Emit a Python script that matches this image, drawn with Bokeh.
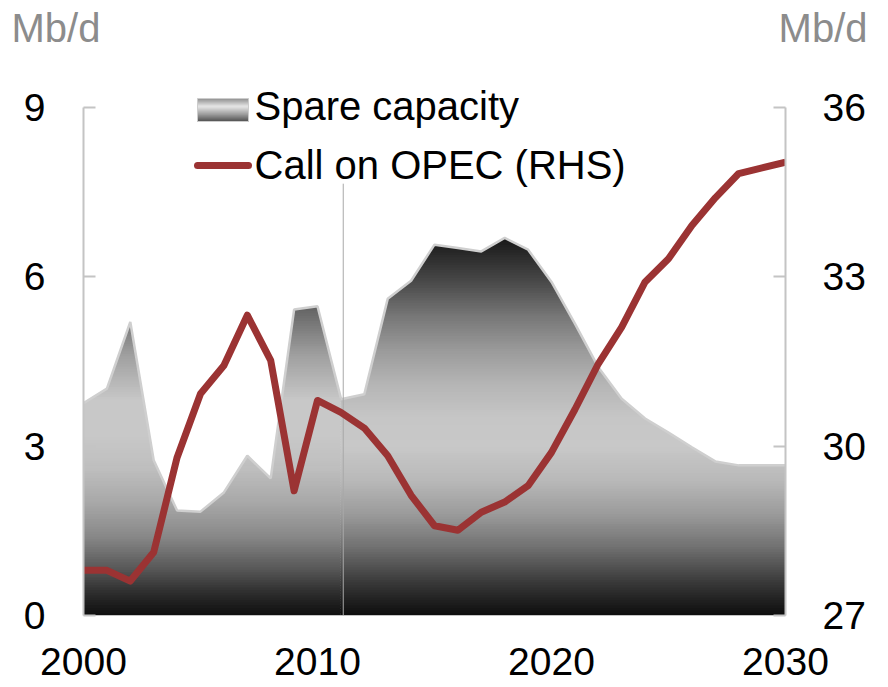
from bokeh.plotting import figure
from bokeh.layouts import column
from bokeh.models import Range1d, LinearAxis, Label, FixedTicker
from bokeh.embed import file_html
from bokeh.resources import INLINE

# ---------------- data ----------------
years = list(range(2000, 2031))
spare_early_years = list(range(2000, 2012))
spare_early = [3.76, 4.02, 5.20, 2.75, 1.86, 1.84, 2.18, 2.83, 2.43, 5.42, 5.48, 3.85]
spare_late_years = list(range(2011, 2031))
spare_late = [3.83, 3.92, 5.61, 5.93, 6.57, 6.51, 6.45, 6.69, 6.48, 5.91,
              5.17, 4.40, 3.84, 3.49, 3.24, 2.98, 2.73, 2.66, 2.66, 2.66]
call_on_opec = [27.80, 27.80, 27.61, 28.12, 29.80, 30.93, 31.43, 32.32, 31.52, 29.21,
                30.81, 30.60, 30.32, 29.83, 29.13, 28.59, 28.51, 28.83, 29.01, 29.30,
                29.89, 30.65, 31.46, 32.11, 32.91, 33.32, 33.91, 34.40, 34.83, 34.93, 35.03]
divider_year = 2011.1
divider_top = 7.65
x_ticks = [2000, 2010, 2020, 2030]
x_tick_labels = ["2000", "2010", "2020", "2030"]
left_ticks = [0, 3, 6, 9]
right_ticks = [27, 30, 33, 36]
series_names = ["Spare capacity", "Call on OPEC (RHS)"]
unit_label = "Mb/d"

# ---------------- layout ----------------
FONT = "Liberation Sans"
W, H_TOTAL = 888, 687
HEAD_H = 50
H = H_TOTAL - HEAD_H
FRAME_L, FRAME_R, FRAME_T, FRAME_B = 83, 785, HEAD_H, 615
PPU = (615 - 107) / 9.0
y_end = (FRAME_B - FRAME_T) / PPU
x_px = (FRAME_R - FRAME_L) / 30.0
TXT_SHIFT = 15  # Bokeh's label baseline sits lower than the requested point

def dx(px):  # page px -> data x
    return 2000 + (px - FRAME_L) / x_px

def dy(py):  # page px -> data y (left scale)
    return (FRAME_B - py) / PPU

# header with the unit labels
head = figure(width=W, height=HEAD_H, x_range=Range1d(0, W), y_range=Range1d(HEAD_H, 0),
              output_backend="svg", toolbar_location=None, x_axis_type=None,
              y_axis_type=None, min_border=0)
head.frame_align = False
head.outline_line_color = None
head.xgrid.visible = False
head.ygrid.visible = False
head.add_layout(Label(x=11, y=42 - TXT_SHIFT, text=unit_label, text_font=FONT,
                      text_font_size="40px", text_color="#8c8c8c",
                      text_baseline="alphabetic", text_align="left"))
head.add_layout(Label(x=867, y=42 - TXT_SHIFT, text=unit_label, text_font=FONT,
                      text_font_size="40px", text_color="#8c8c8c",
                      text_baseline="alphabetic", text_align="right"))

p = figure(width=W, height=H, x_range=Range1d(2000, 2030), y_range=Range1d(0, y_end),
           output_backend="svg", toolbar_location=None,
           min_border_left=FRAME_L, min_border_right=W - FRAME_R,
           min_border_top=0, min_border_bottom=H_TOTAL - FRAME_B)
p.frame_align = False
p.extra_y_ranges = {"rhs": Range1d(27, 27 + y_end)}
p.outline_line_color = None
p.xgrid.visible = False
p.ygrid.visible = False
p.background_fill_color = "white"
p.border_fill_color = "white"

# ---------------- gradient areas ----------------
def interp(v, stops):
    for (v0, g0), (v1, g1) in zip(stops, stops[1:]):
        if v <= v1:
            return g0 + (g1 - g0) * (v - v0) / (v1 - v0)
    return stops[-1][1]

def split_at_levels(xs, ys, levels):
    px, py = [xs[0]], [ys[0]]
    for x0, y0, x1, y1 in zip(xs, ys, xs[1:], ys[1:]):
        cross = []
        for L in levels:
            if (y0 - L) * (y1 - L) < 0:
                t = (L - y0) / (y1 - y0)
                cross.append((x0 + t * (x1 - x0), L))
        cross.sort()
        for cx, cy in cross:
            px.append(cx)
            py.append(cy)
        px.append(x1)
        py.append(y1)
    return px, py

def gradient_area(xs, ys, stops, step=0.045):
    top = max(ys)
    n = int(top / step) + 1
    polys_x, polys_y, colors = [], [], []
    for i in range(n):
        lo = i * step
        hi = lo + step * 1.6
        px, py = split_at_levels(xs, ys, [lo, hi])
        y1 = [min(lo, y) for y in py]
        y2 = [min(hi, y) for y in py]
        g = int(round(interp(lo + step / 2, stops)))
        g = max(0, min(255, g))
        polys_x.append(px + px[::-1])
        polys_y.append(y2 + y1[::-1])
        colors.append("#%02x%02x%02x" % (g, g, g))
    p.patches(xs=polys_x, ys=polys_y, fill_color=colors, line_color=None)

early_stops = [(0, 14), (0.4, 45), (0.8, 85), (1.4, 136), (2.0, 168), (2.6, 190),
               (3.2, 200), (3.8, 200), (4.6, 160), (5.5, 96)]
late_stops = [(0, 12), (0.6, 58), (1.2, 112), (1.8, 155), (2.4, 185), (3.0, 200),
              (3.5, 198), (4.1, 181), (4.7, 154), (5.3, 119), (5.9, 74), (6.7, 22)]

gradient_area(spare_early_years, spare_early, early_stops)
gradient_area(spare_late_years, spare_late, late_stops)
p.line(spare_early_years, spare_early, line_color="#cfcfcf", line_width=2.5)
p.line(spare_late_years, spare_late, line_color="#cfcfcf", line_width=2.5)

# divider
p.segment(x0=[divider_year], y0=[0], x1=[divider_year], y1=[divider_top],
          line_color="#a8a8a8", line_width=1)

# call on OPEC line
RED = "#9b3333"
p.line(years, call_on_opec, y_range_name="rhs", line_color=RED, line_width=7,
       line_join="round")

# ---------------- axes ----------------
AXC = "#c4c4c4"
ya = p.yaxis[0]
ya.ticker = FixedTicker(ticks=left_ticks)
ya.bounds = (0, 9)
ya.axis_line_color = AXC
ya.axis_line_width = 2
ya.major_tick_in = 12
ya.major_tick_out = 0
ya.major_tick_line_color = AXC
ya.major_tick_line_width = 2
ya.minor_tick_line_color = None
ya.major_label_text_font = FONT
ya.major_label_text_font_size = "39px"
ya.major_label_text_color = "black"
ya.major_label_standoff = 38

ra = LinearAxis(y_range_name="rhs", ticker=FixedTicker(ticks=right_ticks), bounds=(27, 36))
ra.axis_line_color = AXC
ra.axis_line_width = 2
ra.major_tick_in = 12
ra.major_tick_out = 0
ra.major_tick_line_color = AXC
ra.major_tick_line_width = 2
ra.minor_tick_line_color = None
ra.major_label_text_font = FONT
ra.major_label_text_font_size = "39px"
ra.major_label_text_color = "black"
ra.major_label_standoff = 37
p.add_layout(ra, "right")

xa = p.xaxis[0]
xa.ticker = FixedTicker(ticks=x_ticks)
xa.major_label_overrides = {t: l for t, l in zip(x_ticks, x_tick_labels)}
xa.axis_line_color = None
xa.major_tick_line_color = None
xa.minor_tick_line_color = None
xa.major_label_text_font = FONT
xa.major_label_text_font_size = "39px"
xa.major_label_text_color = "black"
xa.major_label_standoff = 26

# ---------------- legend ----------------
sw_top, sw_bot, sw_l, sw_r = 98, 121, 197, 248
swatch_stops = [(0.0, 125), (0.35, 228), (0.7, 140), (1.0, 55)]
n_sw = sw_bot - sw_top
qt, qb, qc = [], [], []
for i in range(n_sw):
    f = (i + 0.5) / n_sw
    g = int(round(interp(f, swatch_stops)))
    qt.append(dy(sw_top + i))
    qb.append(dy(sw_top + i + 1.3))
    qc.append("#%02x%02x%02x" % (g, g, g))
p.quad(left=[dx(sw_l)] * n_sw, right=[dx(sw_r)] * n_sw, top=qt, bottom=qb,
       fill_color=qc, line_color=None)
p.quad(left=[dx(sw_l)], right=[dx(sw_r)], top=[dy(sw_top)], bottom=[dy(sw_bot)],
       fill_color=None, line_color="#cccccc", line_width=1)
p.line([dx(197), dx(248)], [dy(165), dy(165)], line_color=RED, line_width=7,
       line_cap="round")
p.add_layout(Label(x=dx(254), y=dy(120 - TXT_SHIFT), text=series_names[0], text_font=FONT,
                   text_font_size="40px", text_color="black",
                   text_baseline="alphabetic", text_align="left"))
p.add_layout(Label(x=dx(254), y=dy(179 - TXT_SHIFT), text=series_names[1], text_font=FONT,
                   text_font_size="40px", text_color="black",
                   text_baseline="alphabetic", text_align="left"))

layout = column(head, p, spacing=0)
open("out.html", "w").write(file_html(layout, INLINE))
